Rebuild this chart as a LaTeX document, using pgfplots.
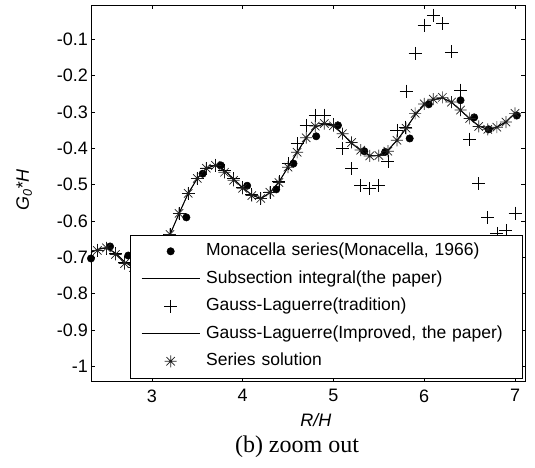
\documentclass[border=0pt]{standalone}
\usepackage{fontspec}
\setmainfont{Liberation Sans}
\newfontfamily\capfont{Liberation Serif}
\usepackage{pgfplots}
\usepackage{pgfplotstable}
\pgfplotsset{compat=1.18}

\pgfdeclareplotmark{mstar}{%
  \pgfpathmoveto{\pgfqpoint{-\pgfplotmarksize}{0pt}}%
  \pgfpathlineto{\pgfqpoint{\pgfplotmarksize}{0pt}}%
  \pgfpathmoveto{\pgfqpoint{0pt}{-\pgfplotmarksize}}%
  \pgfpathlineto{\pgfqpoint{0pt}{\pgfplotmarksize}}%
  \pgfpathmoveto{\pgfqpoint{-0.7\pgfplotmarksize}{-0.7\pgfplotmarksize}}%
  \pgfpathlineto{\pgfqpoint{0.7\pgfplotmarksize}{0.7\pgfplotmarksize}}%
  \pgfpathmoveto{\pgfqpoint{-0.7\pgfplotmarksize}{0.7\pgfplotmarksize}}%
  \pgfpathlineto{\pgfqpoint{0.7\pgfplotmarksize}{-0.7\pgfplotmarksize}}%
  \pgfusepathqstroke}

\pgfplotstableread{
x y
2.33 -0.703
2.54 -0.670
2.74 -0.695
3.38 -0.590
3.56 -0.470
3.76 -0.447
4.05 -0.503
4.37 -0.513
4.56 -0.442
4.81 -0.367
5.05 -0.337
5.34 -0.408
5.57 -0.410
5.84 -0.373
6.05 -0.279
6.40 -0.268
6.55 -0.315
6.71 -0.348
7.02 -0.310
}\monacella

\pgfplotstableread{
x y
2.33 -0.686
2.4 -0.678
2.5 -0.673
2.6 -0.688
2.7 -0.712
2.8 -0.728
2.9 -0.734
3.0 -0.720
3.1 -0.686
3.2 -0.637
3.3 -0.579
3.4 -0.524
3.5 -0.483
3.6 -0.455
3.7 -0.446
3.8 -0.460
3.9 -0.484
4.0 -0.508
4.1 -0.528
4.2 -0.538
4.3 -0.522
4.4 -0.492
4.5 -0.452
4.6 -0.411
4.7 -0.371
4.8 -0.341
4.9 -0.332
5.0 -0.338
5.1 -0.360
5.2 -0.386
5.3 -0.405
5.4 -0.420
5.5 -0.420
5.6 -0.405
5.7 -0.378
5.8 -0.345
5.9 -0.308
6.0 -0.280
6.1 -0.266
6.2 -0.261
6.3 -0.273
6.4 -0.295
6.5 -0.318
6.6 -0.338
6.7 -0.348
6.8 -0.342
6.9 -0.327
7.0 -0.303
}\subsection

\pgfplotstableread{
x y
2.33 -0.687
2.4 -0.679
2.5 -0.674
2.6 -0.689
2.7 -0.713
2.8 -0.729
2.9 -0.735
3.0 -0.721
3.1 -0.687
3.2 -0.638
3.3 -0.580
3.4 -0.525
3.5 -0.484
3.6 -0.456
3.7 -0.447
3.8 -0.461
3.9 -0.485
4.0 -0.509
4.1 -0.529
4.2 -0.539
4.3 -0.523
4.4 -0.493
4.5 -0.453
4.6 -0.412
4.7 -0.372
4.8 -0.342
4.9 -0.333
5.0 -0.339
5.1 -0.361
5.2 -0.387
5.3 -0.406
5.4 -0.421
5.5 -0.421
5.6 -0.406
5.7 -0.379
5.8 -0.346
5.9 -0.309
6.0 -0.281
6.1 -0.267
6.2 -0.262
6.3 -0.274
6.4 -0.296
6.5 -0.319
6.6 -0.339
6.7 -0.349
6.8 -0.343
6.9 -0.328
7.0 -0.304
}\improved

\pgfplotstableread{
x y
2.4 -0.680
2.5 -0.675
2.6 -0.690
2.7 -0.715
3.2 -0.637
3.3 -0.579
3.4 -0.524
3.5 -0.483
3.6 -0.455
3.7 -0.446
3.8 -0.460
3.9 -0.484
4.0 -0.508
4.1 -0.528
4.2 -0.538
4.3 -0.522
4.4 -0.492
4.5 -0.442
4.6 -0.387
4.7 -0.337
4.8 -0.309
4.9 -0.309
5.0 -0.335
5.1 -0.400
5.2 -0.456
5.3 -0.502
5.4 -0.510
5.5 -0.502
5.6 -0.437
5.7 -0.351
5.79 -0.342
5.8 -0.243
5.9 -0.139
6.0 -0.061
6.1 -0.034
6.2 -0.057
6.3 -0.135
6.4 -0.240
6.5 -0.375
6.6 -0.497
6.7 -0.590
6.8 -0.634
6.9 -0.626
7.0 -0.578
}\tradition

\pgfplotstableread{
x y
2.4 -0.681
2.5 -0.674
2.6 -0.692
2.7 -0.717
2.8 -0.728
2.9 -0.734
3.0 -0.720
3.1 -0.686
3.2 -0.637
3.3 -0.579
3.4 -0.524
3.5 -0.483
3.6 -0.455
3.7 -0.447
3.8 -0.466
3.9 -0.488
4.0 -0.510
4.1 -0.530
4.2 -0.538
4.3 -0.521
4.4 -0.494
4.5 -0.452
4.6 -0.411
4.7 -0.371
4.8 -0.339
4.9 -0.332
5.0 -0.338
5.1 -0.360
5.2 -0.384
5.3 -0.405
5.4 -0.421
5.5 -0.420
5.6 -0.408
5.7 -0.378
5.8 -0.345
5.9 -0.304
6.0 -0.278
6.1 -0.265
6.2 -0.260
6.3 -0.273
6.4 -0.295
6.5 -0.318
6.6 -0.340
6.7 -0.348
6.8 -0.342
6.9 -0.328
7.0 -0.304
}\series

\begin{document}
\begin{tikzpicture}
\begin{axis}[
  scale only axis,
  width=434pt, height=376pt,
  xmin=2.33, xmax=7.11,
  ymin=-1.04, ymax=-0.006,
  xtick={3,4,5,6,7},
  xticklabels={3,4,5,6,7},
  ytick={-1,-0.9,-0.8,-0.7,-0.6,-0.5,-0.4,-0.3,-0.2,-0.1},
  yticklabels={-1,-0.9,-0.8,-0.7,-0.6,-0.5,-0.4,-0.3,-0.2,-0.1},
  tick align=inside,
  major tick length=4pt,
  tick style={line width=0.6pt, black},
  axis line style={line width=0.9pt},
  ticklabel style={font=\fontsize{18}{21}\selectfont},
  yticklabel style={inner xsep=3pt},
  xticklabel style={yshift=-5pt},
  xlabel={\textit{R/H}},
  ylabel={\textit{G\textsubscript{0}*H}},
  xlabel style={font=\fontsize{18}{21}\selectfont, at={(axis description cs:0.518,-0.104)}, anchor=center},
  ylabel style={font=\fontsize{18}{21}\selectfont, at={(axis description cs:-0.154,0.508)}, anchor=center, rotate=0},
  legend cell align=left,
  legend style={
    at={(axis description cs:0.0899,0.008)}, anchor=south west,
    draw=black, fill=white,
    font=\fontsize{17.5}{21}\selectfont,
    inner xsep=11pt, inner ysep=8pt,
    row sep=10.5pt,
    nodes={inner sep=0pt, text height=13pt, text depth=4pt, text width=305pt, align=left},
    /tikz/every odd column/.append style={column sep=6pt},
  },
  legend image code/.code={\draw[#1,mark repeat=2,mark phase=2] plot coordinates {(0pt,0pt) (29pt,0pt) (58pt,0pt)};},
]
\addplot[only marks, mark=*, mark size=3.7pt, black, line width=0.5pt] table[x=x,y=y] {\monacella};
\addlegendentry{Monacella series(Monacella, 1966)}
\addplot[no marks, black, line width=0.9pt] table[x=x,y=y] {\subsection};
\addlegendentry{Subsection integral(the paper)}
\addplot[only marks, mark=+, mark size=6.5pt, black, line width=0.7pt] table[x=x,y=y] {\tradition};
\addlegendentry{Gauss-Laguerre(tradition)}
\addplot[no marks, black, line width=0.6pt] table[x=x,y=y] {\improved};
\addlegendentry{Gauss-Laguerre(Improved, the paper)}
\addplot[only marks, mark=mstar, mark size=6pt, black!88, line width=0.7pt] table[x=x,y=y] {\series};
\addlegendentry{Series solution}
\end{axis}
\node[font=\capfont\fontsize{24}{28}\selectfont] at (206pt,-66pt) {(b) zoom out};
\pgfresetboundingbox
\path (-91pt,-86pt) rectangle (444pt,381pt);
\end{tikzpicture}
\end{document}
